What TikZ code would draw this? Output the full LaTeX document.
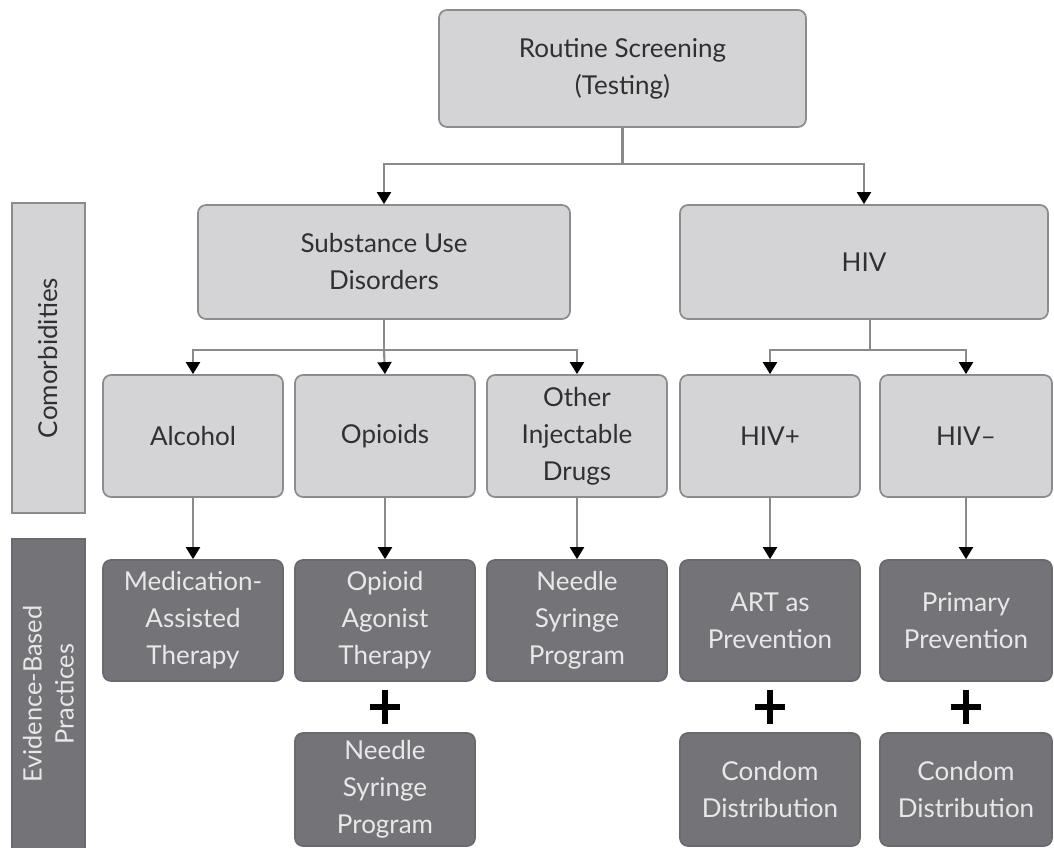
\documentclass[tikz,border=0pt]{standalone}
\usepackage{fontspec}
\setmainfont{Lato}
\usetikzlibrary{arrows.meta}
\definecolor{lfill}{HTML}{D4D4D6}
\definecolor{lborder}{HTML}{8C8C8E}
\definecolor{ltext}{HTML}{303030}
\definecolor{dfill}{HTML}{747478}
\definecolor{dborder}{HTML}{6A6A6E}
\definecolor{dtext}{HTML}{E8E8E8}
\definecolor{cline}{HTML}{8A8A8A}
\begin{document}
\begin{tikzpicture}[x=0.75pt,y=-0.75pt,
  base/.style={rounded corners=6pt, line width=1.3pt, align=center, inner sep=0pt,
    font=\fontsize{19.5}{27.75}\selectfont},
  lbox/.style={base, fill=lfill, draw=lborder, text=ltext},
  dbox/.style={base, fill=dfill, draw=dborder, text=dtext},
  wbox/.style={minimum width=135pt},
  nbox/.style={minimum width=129pt},
  rtwo/.style={minimum height=91.5pt},
  rthree/.style={minimum height=90.75pt},
  rfour/.style={minimum height=84.75pt},
  side/.style={sharp corners, rotate=90, minimum width=232.5pt, minimum height=54.75pt},
  cl/.style={draw=cline, line width=1.6pt},
  conn/.style={cl, -{Triangle[width=10.5pt,length=9pt,color=black,fill=black]}},
  plus/.style={draw=black, line width=4.4pt}
]
\useasboundingbox (0,0) rectangle (1054,848);

% top
\node[lbox, minimum width=275.25pt, minimum height=87.75pt] (top) at (622.5,68.5) {Routine Screening\\(Testing)};
\node[lbox, minimum width=279pt, minimum height=85.5pt] (sud) at (384,262) {Substance Use\\Disorders};
\node[lbox, minimum width=276pt, minimum height=85.5pt] (hiv) at (864,262) {HIV};

% side labels
\node[lbox, side] (com) at (48.5,358) {Comorbidities};
\node[dbox, side, font=\fontsize{19}{24}\selectfont] (ebp) at (48.5,694) {Evidence-Based\\Practices};

% row 2
\node[lbox, wbox, rtwo] (alc) at (193,436) {Alcohol};
\node[lbox, wbox, rtwo] (opi) at (385,436) {Opioids};
\node[lbox, wbox, rtwo] (oid) at (577,436) {Other\\Injectable\\Drugs};
\node[lbox, wbox, rtwo] (hpos) at (770,436) {HIV+};
\node[lbox, nbox, rtwo] (hneg) at (966,436) {HIV–};

% row 3
\node[dbox, wbox, rthree] (mat) at (193,620.5) {Medication-\\Assisted\\Therapy};
\node[dbox, wbox, rthree] (oat) at (385,620.5) {Opioid\\Agonist\\Therapy};
\node[dbox, wbox, rthree] (nsp) at (577,620.5) {Needle\\Syringe\\Program};
\node[dbox, wbox, rthree] (art) at (770,620.5) {ART as\\Prevention};
\node[dbox, nbox, rthree] (pp) at (966,620.5) {Primary\\Prevention};

% row 4
\node[dbox, wbox, rfour] (nsp2) at (385,789.5) {Needle\\Syringe\\Program};
\node[dbox, wbox, rfour] (cd1) at (770,789.5) {Condom\\Distribution};
\node[dbox, nbox, rfour] (cd2) at (966,789.5) {Condom\\Distribution};

% connectors
\draw[cl] (top.south) -- ++(0,36) coordinate (tj);
\draw[conn] (tj) -| (sud.north);
\draw[conn] (tj) -| (hiv.north);

\draw[cl] (sud.south) -- ++(0,30) coordinate (sj);
\draw[conn] (sj) -| (alc.north);
\draw[conn] (sj) -- (opi.north);
\draw[conn] (sj) -| (oid.north);

\draw[cl] ([xshift=4.5pt]hiv.south) -- ++(0,30) coordinate (hj);
\draw[conn] (hj) -| (hpos.north);
\draw[conn] (hj) -| (hneg.north);

\draw[conn] (alc) -- (mat);
\draw[conn] (opi) -- (oat);
\draw[conn] (oid) -- (nsp);
\draw[conn] (hpos) -- (art);
\draw[conn] (hneg) -- (pp);

% plus signs
\coordinate (p1) at (385,707);
\coordinate (p2) at (770,707);
\coordinate (p3) at (966,707);
\foreach \p in {p1,p2,p3}{
  \draw[plus] ([yshift=13pt]\p) -- ([yshift=-13pt]\p);
  \draw[plus] ([xshift=-11.5pt]\p) -- ([xshift=11.5pt]\p);
}
\end{tikzpicture}
\end{document}
